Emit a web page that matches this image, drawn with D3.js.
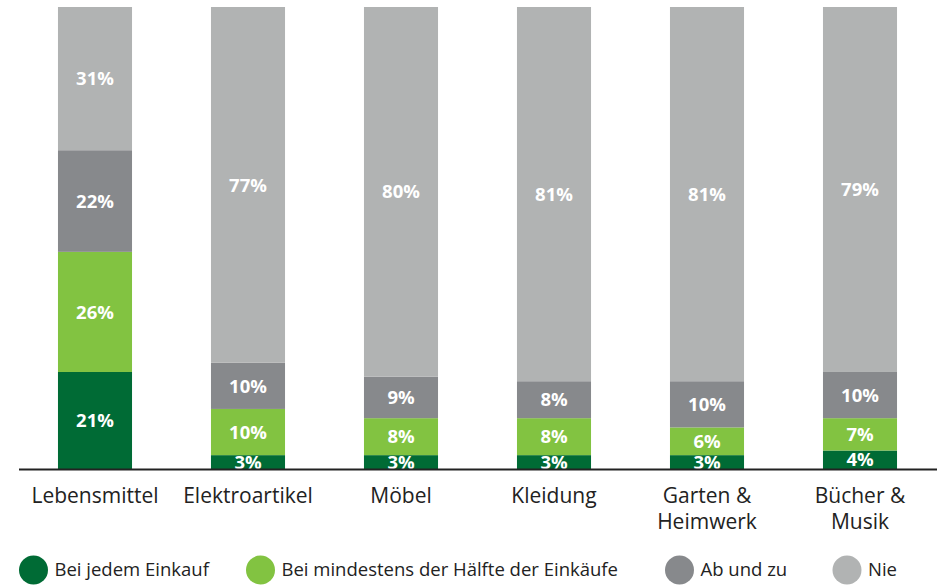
<!DOCTYPE html>
<html lang="de">
<head>
<meta charset="utf-8"/>
<title>Einkauf</title>
<script src="https://d3js.org/d3.v7.min.js"></script>
<style>
  body { margin: 0; background: #fff; }
  svg { font-family: "Open Sans", sans-serif; }
  .val { fill: #fff; font-weight: bold; font-size: 18.5px; text-anchor: middle; }
  .cat { fill: #222; font-size: 21px; text-anchor: middle; }
  .leg { fill: #222; font-size: 18.5px; }
</style>
</head>
<body>
<div id="chart"></div>
<script>
  // data
  var categories = [["Lebensmittel"], ["Elektroartikel"], ["Möbel"], ["Kleidung"], ["Garten &", "Heimwerk"], ["Bücher &", "Musik"]];
  var seriesNames = ["Bei jedem Einkauf", "Bei mindestens der Hälfte der Einkäufe", "Ab und zu", "Nie"];
  var jedem = [21, 3, 3, 3, 3, 4];
  var haelfte = [26, 10, 8, 8, 6, 7];
  var abUndZu = [22, 10, 9, 8, 10, 10];
  var nie = [31, 77, 80, 81, 81, 79];
  var colors = ["#006b35", "#82c341", "#87898c", "#b1b3b3"];

  var width = 937, height = 585;

  var svg = d3.select("#chart").append("svg")
    .attr("width", width)
    .attr("height", height);

  var rows = categories.map(function(c, i) {
    return { key: i, s0: jedem[i], s1: haelfte[i], s2: abUndZu[i], s3: nie[i] };
  });
  var keys = ["s0", "s1", "s2", "s3"];
  var stacked = d3.stack().keys(keys)(rows);

  var x = d3.scaleBand()
    .domain(rows.map(function(d) { return d.key; }))
    .range([18.5, 936.5])
    .paddingInner(0.516)
    .paddingOuter(0.258);

  var y = d3.scaleLinear()
    .domain([0, 100])
    .range([469, 7]);

  var layers = svg.append("g")
    .selectAll("g")
    .data(stacked)
    .enter().append("g")
      .attr("fill", function(d, i) { return colors[i]; });

  layers.selectAll("rect")
    .data(function(d) { return d; })
    .enter().append("rect")
      .attr("x", function(d) { return x(d.data.key); })
      .attr("y", function(d) { return y(d[1]); })
      .attr("height", function(d) { return y(d[0]) - y(d[1]); })
      .attr("width", x.bandwidth());

  layers.selectAll("text")
    .data(function(d) { return d; })
    .enter().append("text")
      .attr("class", "val")
      .attr("x", function(d) { return x(d.data.key) + x.bandwidth() / 2; })
      .attr("y", function(d) { return (y(d[0]) + y(d[1])) / 2; })
      .attr("dy", "0.36em")
      .text(function(d) { return (d[1] - d[0]) + "%"; });

  // baseline
  svg.append("line")
    .attr("x1", 19).attr("x2", width)
    .attr("y1", y(0) + 0.5).attr("y2", y(0) + 0.5)
    .attr("stroke", "#222")
    .attr("stroke-width", 2);

  // category labels
  var cats = svg.append("g").selectAll("text")
    .data(categories)
    .enter().append("text")
      .attr("class", "cat")
      .attr("x", function(d, i) { return x(i) + x.bandwidth() / 2; })
      .attr("y", 503);

  cats.selectAll("tspan")
    .data(function(d) { return d; })
    .enter().append("tspan")
      .attr("x", function() { return d3.select(this.parentNode).attr("x"); })
      .attr("dy", function(d, i) { return i ? 26 : 0; })
      .text(function(d) { return d; });

  // legend
  var legX = [33.5, 260.5, 679.5, 847];
  var legend = svg.append("g").selectAll("g")
    .data(seriesNames)
    .enter().append("g")
      .attr("transform", function(d, i) { return "translate(" + legX[i] + ",570)"; });

  legend.append("circle")
    .attr("r", 14.5)
    .attr("fill", function(d, i) { return colors[i]; });

  legend.append("text")
    .attr("class", "leg")
    .attr("x", 21)
    .attr("dy", "0.35em")
    .text(function(d) { return d; });
</script>
</body>
</html>
